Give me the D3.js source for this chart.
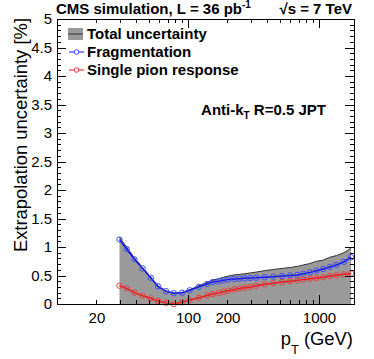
<!DOCTYPE html>
<html>
<head>
<meta charset="utf-8">
<script src="https://cdn.jsdelivr.net/npm/d3@7"></script>
<style>
	body { margin: 0; background: #fff; }
	svg { display: block; font-family: "Liberation Sans", Arial, Helvetica, sans-serif; }
</style>
</head>
<body>
<div id="chart"></div>
<script>

// jet pT points (GeV) and the extrapolation uncertainties [%]
let ptBins = [30, 34, 39, 45, 52, 59, 68, 78, 90, 103, 121, 140, 155, 172, 187, 203, 225, 247, 271, 298,
			  331, 385, 448, 522, 601, 683, 759, 853, 957, 1076, 1210, 1359, 1547, 1758];
let fragUnc = [1.13, 0.965, 0.785, 0.625, 0.46, 0.31, 0.225, 0.19, 0.198, 0.24, 0.30, 0.35, 0.385, 0.40, 0.415, 0.43, 0.44, 0.445, 0.45, 0.456,
			   0.46, 0.47, 0.48, 0.49, 0.50, 0.51, 0.53, 0.555, 0.585, 0.614, 0.65, 0.685, 0.74, 0.82];
let pionUnc = [0.32, 0.275, 0.20, 0.146, 0.10, 0.053, 0.023, 0.0, 0.03, 0.07, 0.11, 0.15, 0.175, 0.195, 0.215, 0.233, 0.255, 0.27, 0.285, 0.30,
			   0.32, 0.345, 0.365, 0.385, 0.40, 0.415, 0.43, 0.445, 0.455, 0.47, 0.49, 0.505, 0.52, 0.535];
let totalUnc = [1.17, 1.00, 0.81, 0.64, 0.47, 0.315, 0.226, 0.19, 0.20, 0.25, 0.32, 0.38, 0.42, 0.445, 0.47, 0.49, 0.51, 0.52, 0.53, 0.545,
				0.56, 0.585, 0.605, 0.625, 0.64, 0.66, 0.685, 0.71, 0.75, 0.77, 0.82, 0.85, 0.90, 0.98];

let xLabelTicks = [20, 100, 200, 1000];
let xMajorTicks = [100, 1000];
let xMinorTicks = [20, 30, 40, 50, 60, 70, 80, 90, 200, 300, 400, 500, 600, 700, 800, 900];
let yLabelTicks = [0, 0.5, 1, 1.5, 2, 2.5, 3, 3.5, 4, 4.5, 5];
let yMinorTicks = d3.range(0, 51).map(d => d / 10);

let legendNames = ["Total uncertainty", "Fragmentation", "Single pion response"];

let width = 374, height = 359;
let frame = {left: 57, right: 354, top: 19, bottom: 304};
let fontFam = "'Liberation Sans', Arial, Helvetica, sans-serif";

let svg = d3.select("#chart").append("svg")
			.attr("width", width)
			.attr("height", height);

let x = d3.scaleLog().domain([10, 1850]).range([frame.left, frame.right]);
let y = d3.scaleLinear().domain([0, 5]).range([frame.bottom, frame.top]);

// grey band = total uncertainty
let area = d3.area()
			.x((d, i) => x(ptBins[i]))
			.y0(y(0))
			.y1(d => y(d));
let line = d3.line()
			.x((d, i) => x(ptBins[i]))
			.y(d => y(d));

svg.append("path").datum(totalUnc)
	.attr("d", area)
	.attr("fill", "#9a9a9a");
svg.append("path").datum(totalUnc)
	.attr("d", line)
	.attr("fill", "none")
	.attr("stroke", "#333")
	.attr("stroke-width", 1);

function drawSeries(vals, colLine, colMark) {
	svg.append("path").datum(vals)
		.attr("d", line)
		.attr("fill", "none")
		.attr("stroke", colLine)
		.attr("stroke-width", 1.5);
	svg.append("g").selectAll("circle")
		.data(vals)
		.join("circle")
		.attr("cx", (d, i) => x(ptBins[i]))
		.attr("cy", d => y(d))
		.attr("r", 2.7)
		.attr("fill", "none")
		.attr("stroke", colMark)
		.attr("stroke-width", 1);
}
drawSeries(fragUnc, "#1010ee", "#3b4bff");
drawSeries(pionUnc, "#e81818", "#f03a3a");

// frame
svg.append("rect")
	.attr("x", frame.left + 0.5)
	.attr("y", frame.top + 0.5)
	.attr("width", frame.right - frame.left)
	.attr("height", frame.bottom - frame.top)
	.attr("fill", "none")
	.attr("stroke", "#000")
	.attr("stroke-width", 1)
	.attr("shape-rendering", "crispEdges");

// tick marks, all pointing inside, on the four sides
function ticks(axis, tr, vals, len) {
	let g = svg.append("g")
		.attr("transform", tr)
		.call(axis.tickValues(vals).tickSize(-len).tickFormat(""));
	g.select(".domain").remove();
	g.selectAll("line").attr("shape-rendering", "crispEdges");
}
ticks(d3.axisBottom(x), "translate(0," + frame.bottom + ")", xMinorTicks, 4);
ticks(d3.axisBottom(x), "translate(0," + frame.bottom + ")", xMajorTicks, 9);
ticks(d3.axisTop(x), "translate(0," + frame.top + ")", xMinorTicks, 4);
ticks(d3.axisTop(x), "translate(0," + frame.top + ")", xMajorTicks, 9);
ticks(d3.axisLeft(y), "translate(" + frame.left + ",0)", yMinorTicks, 4);
ticks(d3.axisLeft(y), "translate(" + frame.left + ",0)", yLabelTicks, 9);
ticks(d3.axisRight(y), "translate(" + frame.right + ",0)", yMinorTicks, 4);
ticks(d3.axisRight(y), "translate(" + frame.right + ",0)", yLabelTicks, 9);

// tick labels
let xLab = svg.append("g")
	.attr("transform", "translate(0," + frame.bottom + ")")
	.call(d3.axisBottom(x).tickValues(xLabelTicks).tickSize(0).tickPadding(8).tickFormat(d => String(d)));
xLab.select(".domain").remove();
xLab.attr("font-size", 15).attr("font-family", fontFam);

let yLab = svg.append("g")
	.attr("transform", "translate(" + frame.left + ",0)")
	.call(d3.axisLeft(y).tickValues(yLabelTicks).tickSize(0).tickPadding(5).tickFormat(d => String(d)));
yLab.select(".domain").remove();
yLab.attr("font-size", 15).attr("font-family", fontFam);

// axis titles
let xt = svg.append("text")
	.attr("x", 353)
	.attr("y", 345)
	.attr("text-anchor", "end")
	.attr("font-size", 18.4);
xt.append("tspan").text("p");
xt.append("tspan").attr("font-size", 13).attr("dy", 9).text("T");
xt.append("tspan").attr("dy", -9).text(" (GeV)");

svg.append("text")
	.attr("transform", "translate(26.5,18) rotate(-90)")
	.attr("text-anchor", "end")
	.attr("font-size", 18.4)
	.text("Extrapolation uncertainty [%]");

// header
let hd = svg.append("text")
	.attr("x", 56)
	.attr("y", 14)
	.attr("font-size", 15)
	.attr("font-weight", "bold");
hd.append("tspan").text("CMS simulation, L = 36 pb");
hd.append("tspan").attr("font-size", 10).attr("dy", -6).text("-1");

svg.append("text")
	.attr("x", 352)
	.attr("y", 14)
	.attr("text-anchor", "end")
	.attr("font-size", 15)
	.attr("font-weight", "bold")
	.text("\u221As = 7 TeV");

// legend
let legend = svg.append("g").attr("font-size", 15).attr("font-weight", "bold");
let legY = [34, 52, 70];
legend.append("rect")
	.attr("x", 68).attr("y", legY[0] - 6)
	.attr("width", 15).attr("height", 12)
	.attr("fill", "#9a9a9a");
legend.append("line")
	.attr("x1", 68).attr("x2", 83)
	.attr("y1", legY[0]).attr("y2", legY[0])
	.attr("stroke", "#555").attr("stroke-width", 1.5);
[["#1010ee", "#3b4bff"], ["#e81818", "#f03a3a"]].forEach(function(c, k) {
	legend.append("line")
		.attr("x1", 69).attr("x2", 84)
		.attr("y1", legY[k + 1]).attr("y2", legY[k + 1])
		.attr("stroke", c[0]).attr("stroke-width", 1);
	legend.append("circle")
		.attr("cx", 76.5).attr("cy", legY[k + 1])
		.attr("r", 2.3)
		.attr("fill", "#fff")
		.attr("stroke", c[1]);
});
legend.selectAll("text.leg")
	.data(legendNames)
	.join("text")
	.attr("class", "leg")
	.attr("x", 87)
	.attr("y", (d, i) => legY[i] + 4.5)
	.text(d => d);

// jet algorithm label
let al = svg.append("text")
	.attr("x", 326)
	.attr("y", 115)
	.attr("text-anchor", "end")
	.attr("font-size", 15)
	.attr("font-weight", "bold");
al.append("tspan").text("Anti-k");
al.append("tspan").attr("font-size", 10).attr("dy", 4).text("T");
al.append("tspan").attr("dy", -4).text(" R=0.5 JPT");

</script>
</body>
</html>
